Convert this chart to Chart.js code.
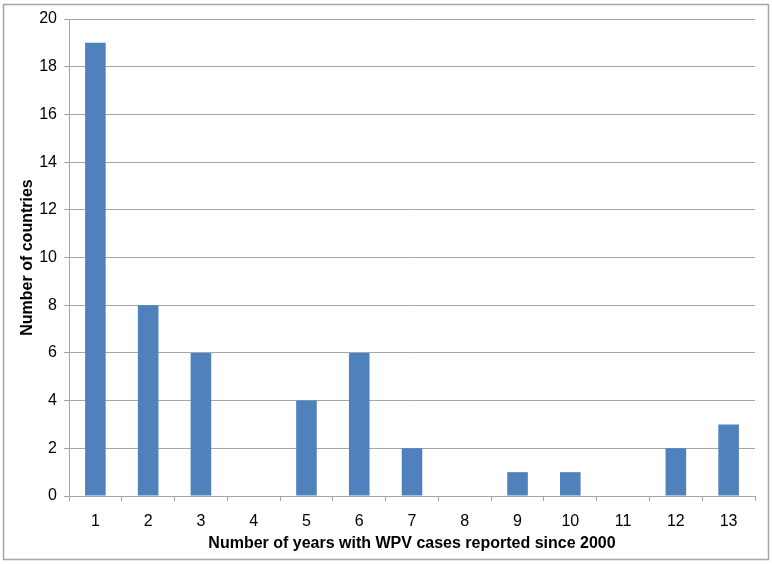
<!DOCTYPE html>
<html>
<head>
<meta charset="utf-8">
<script src="https://cdn.jsdelivr.net/npm/chart.js@4"></script>
<style>
  html, body { margin: 0; padding: 0; background: #fff; }
  #wrap { width: 772px; height: 564px; position: relative; }
</style>
</head>
<body>
<div id="wrap"><canvas id="c" width="772" height="564"></canvas></div>
<script>
// categories and values
const years = ['1', '2', '3', '4', '5', '6', '7', '8', '9', '10', '11', '12', '13'];
const countries = [19, 8, 6, 0, 4, 6, 2, 0, 1, 1, 0, 2, 3];

const BAR = '#4F81BD';
const GRID = '#a6a6a6';
const FONT = "'Liberation Sans', Arial, sans-serif";

// outer frame around the whole chart
const frame = {
  id: 'frame',
  afterDraw(chart) {
    const ctx = chart.ctx;
    ctx.save();
    ctx.strokeStyle = '#a6a6a6';
    ctx.lineWidth = 1.5;
    ctx.strokeRect(3.5, 4.5, 765, 555);
    ctx.restore();
  }
};

new Chart(document.getElementById('c'), {
  type: 'bar',
  data: {
    labels: years,
    datasets: [{
      data: countries,
      backgroundColor: BAR,
      borderWidth: 0,
      barPercentage: 0.78,
      categoryPercentage: 0.5
    }]
  },
  options: {
    responsive: false,
    animation: false,
    layout: { padding: { top: 19, right: 17, left: 0, bottom: 0 } },
    plugins: { legend: { display: false }, tooltip: { enabled: false } },
    scales: {
      x: {
        grid: { offset: true, drawOnChartArea: false, color: GRID, tickLength: 5, tickColor: GRID },
        border: { color: GRID },
        ticks: { color: '#000', font: { family: FONT, size: 16 }, padding: 11 },
        title: {
          display: true,
          text: 'Number of years with WPV cases reported since 2000',
          color: '#000',
          font: { family: FONT, size: 16, weight: 'bold' },
          padding: { top: 0, bottom: 11 }
        },
        afterFit(s) { s.height = 68; }
      },
      y: {
        min: 0, max: 20,
        ticks: { stepSize: 2, color: '#000', font: { family: FONT, size: 16 }, padding: 7 },
        grid: { color: GRID, tickLength: 5, tickColor: GRID },
        border: { color: GRID },
        title: {
          display: true,
          text: 'Number of countries',
          color: '#000',
          font: { family: FONT, size: 16, weight: 'bold' },
          padding: { top: 18, bottom: 0 }
        },
        afterFit(s) { s.width = 69; }
      }
    }
  },
  plugins: [frame]
});
</script>
</body>
</html>
